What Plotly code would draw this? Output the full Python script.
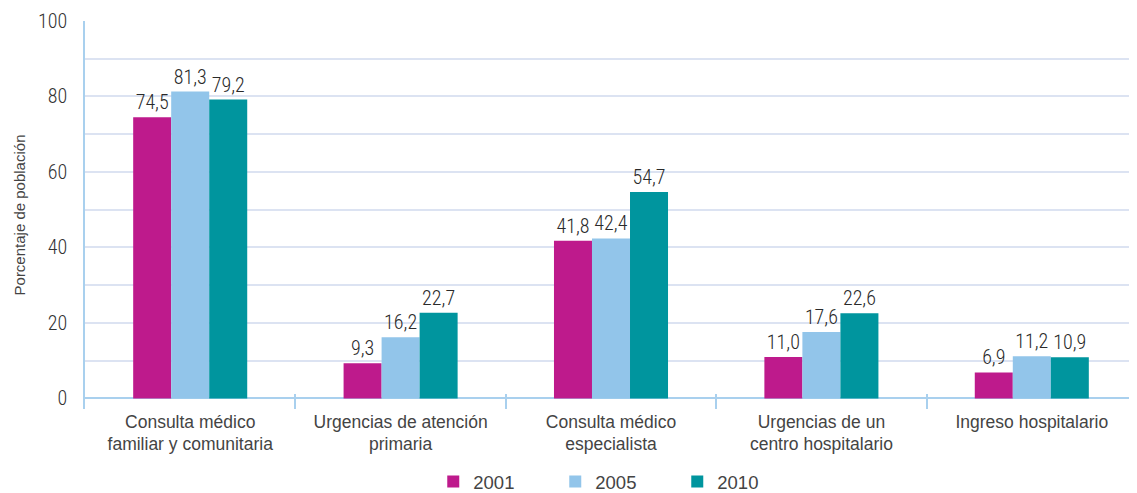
import plotly.graph_objects as go

categories = [
    "Consulta médico<br>familiar y comunitaria",
    "Urgencias de atención<br>primaria",
    "Consulta médico<br>especialista",
    "Urgencias de un<br>centro hospitalario",
    "Ingreso hospitalario",
]
years = ["2001", "2005", "2010"]
v2001 = [74.5, 9.3, 41.8, 11.0, 6.9]
v2005 = [81.3, 16.2, 42.4, 17.6, 11.2]
v2010 = [79.2, 22.7, 54.7, 22.6, 10.9]
series = [v2001, v2005, v2010]
colors = ["#BE1A8C", "#92C5EA", "#00959E"]
y_ticks = [0, 20, 40, 60, 80, 100]

narrow = "Roboto Condensed, Liberation Sans Narrow, sans-serif"
regular = "Liberation Sans, Arial, sans-serif"

fig = go.Figure()
for name, vals, col in zip(years, series, colors):
    fig.add_trace(go.Bar(
        x=categories, y=vals, name=name,
        marker=dict(color=col, line=dict(width=0)),
        texttemplate="%{y:.1f}", textposition="outside",
        textfont=dict(family=narrow, size=20, color="#2a2a2a", weight=300),
        cliponaxis=False,
    ))

# the page body adds an 8px offset, so the figure is 8px smaller than the window
fig.update_layout(
    width=1129, height=485,
    margin=dict(l=77, r=0, t=13, b=84, autoexpand=False),
    paper_bgcolor="white", plot_bgcolor="white",
    barmode="group", bargap=0.458, bargroupgap=0,
    separators=",.",
    showlegend=True,
    legend=dict(
        orientation="h", x=0.505, xanchor="center", y=-0.188, yanchor="middle",
        font=dict(family=regular, size=18.5, color="#444"),
        entrywidth=77, entrywidthmode="pixels", traceorder="normal",
    ),
    font=dict(family=regular, color="#333"),
)
fig.update_yaxes(
    range=[-2.8, 100], tickvals=y_ticks, ticktext=[str(t) for t in y_ticks],
    showgrid=True, gridcolor="#DCE3F2", gridwidth=1.5,
    minor=dict(dtick=10, showgrid=True, gridcolor="#DCE3F2", gridwidth=1.5, tick0=0),
    zeroline=True, zerolinecolor="#A9D0EE", zerolinewidth=1.5,
    showline=True, linecolor="#A9D0EE", linewidth=1.5,
    ticks="", ticklabelstandoff=12, automargin=False,
    tickfont=dict(family=narrow, size=20, color="#333", weight=300),
    title=dict(text="Porcentaje de población", font=dict(family=regular, size=15, color="#444"), standoff=9),
)
fig.update_xaxes(
    showline=False, showgrid=False, automargin=False,
    ticks="inside", tickson="boundaries", ticklen=15, tickcolor="#A9D0EE", tickwidth=1.5,
    tickfont=dict(family=regular, size=17.5, color="#444"),
)
fig.write_html("out.html")
